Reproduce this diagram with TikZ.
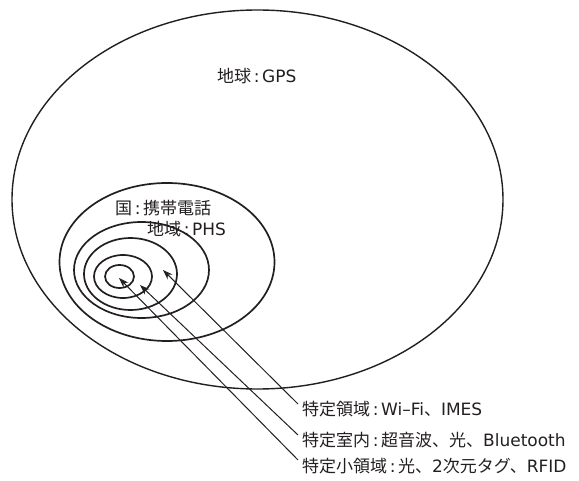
\documentclass[tikz,border=0pt]{standalone}
\usepackage{fontspec}
\setmainfont{DejaVu Sans}
\newfontfamily\jp{Noto Sans CJK JP}
\newcommand\jpn[1]{{\jp #1}}
\newcommand\jcolon{\hspace{2.6pt}:\hspace{2.6pt}}
\usetikzlibrary{arrows.meta,shapes.geometric}
\definecolor{ink}{HTML}{231F20}
\begin{document}
\begin{tikzpicture}[x=1pt,y=-1pt,
  ring/.style={ellipse, draw=ink, line width=1.7pt, inner sep=0pt, outer sep=0pt},
  bigring/.style={ellipse, draw=ink, line width=1.4pt, inner sep=0pt, outer sep=0pt},
  lbl/.style={font=\fontsize{17}{20}\selectfont, text=ink, inner sep=0pt},
  pointer/.style={draw=ink, line width=1pt, -{Stealth[length=10pt,width=7pt]}}]
\useasboundingbox (0,0) rectangle (579,481);
\node[bigring, minimum width=491pt, minimum height=379pt] (earth) at (257.5,199.5) {};
\node[ring, minimum width=215pt, minimum height=158pt] (country) at (167,262) {};
\node[ring, minimum width=135pt, minimum height=96pt] (region) at (141.5,270) {};
\node[ring, minimum width=93pt, minimum height=72pt] (area) at (130.5,274) {};
\node[ring, minimum width=58pt, minimum height=43pt] (room) at (123,276.5) {};
\node[ring, minimum width=29pt, minimum height=23pt] (small) at (119.5,276.5) {};
\node[lbl, anchor=west] (tEarth) at (217,76) {\jpn{地球}\jcolon GPS};
\node[lbl, anchor=west] (tCountry) at (115,208) {\jpn{国}\jcolon\jpn{携帯電話}};
\node[lbl, anchor=west] (tRegion) at (147,229) {\jpn{地域}\jcolon PHS};
\node[lbl, anchor=west] (tArea) at (302,409) {\jpn{特定領域}\jcolon Wi–Fi\jpn{、}IMES};
\node[lbl, anchor=west] (tRoom) at (302,440) {\jpn{特定室内}\jcolon\jpn{超音波、光、}Bluetooth};
\node[lbl, anchor=west] (tSmall) at (302,466) {\jpn{特定小領域}\jcolon\jpn{光、}2\jpn{次元タグ、}RFID};
\coordinate (aTail) at (298,404);
\coordinate (bTail) at (298,435);
\coordinate (cTail) at (298,460);
\coordinate (aTip) at (163,270);
\coordinate (bTip) at (140,285);
\coordinate (cTip) at (119,278);
\draw[pointer] (aTail) -- (aTip);
\draw[pointer] (bTail) -- (bTip);
\draw[pointer] (cTail) -- (cTip);
\end{tikzpicture}
\end{document}
